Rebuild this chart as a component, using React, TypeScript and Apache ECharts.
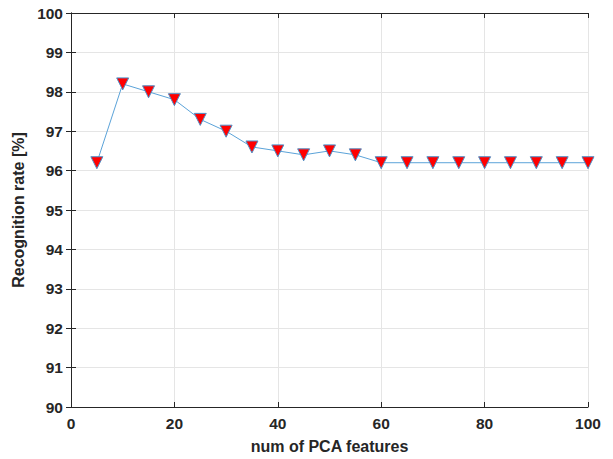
import React, { useEffect, useRef } from "react";
import * as echarts from "echarts";

const xValues = [5, 10, 15, 20, 25, 30, 35, 40, 45, 50, 55, 60, 65, 70, 75, 80, 85, 90, 95, 100];
const yValues = [96.2, 98.2, 98.0, 97.8, 97.3, 97.0, 96.6, 96.5, 96.4, 96.5, 96.4, 96.2, 96.2, 96.2, 96.2, 96.2, 96.2, 96.2, 96.2, 96.2];
const xName = "num of PCA features";
const yName = "Recognition rate [%]";

export default function App() {
  const ref = useRef<HTMLDivElement>(null);
  useEffect(() => {
    document.body.style.margin = "0";
    const chart = echarts.init(ref.current!, null, { renderer: "svg" });
    const font = "Liberation Sans, Arial, sans-serif";
    const axisColor = "#262626";
    const labelStyle = { color: "#262626", fontSize: 15.5, fontWeight: "bold" as const, fontFamily: font };
    chart.setOption({
      animation: false,
      backgroundColor: "#ffffff",
      grid: { left: 71, right: 25, top: 13, bottom: 52 },
      xAxis: [
        {
          type: "value", min: 0, max: 100, interval: 20,
          name: xName, nameLocation: "middle", nameGap: 31,
          nameTextStyle: { color: "#262626", fontSize: 16, fontWeight: "bold", fontFamily: font },
          axisLine: { show: true, lineStyle: { color: axisColor, width: 1 } },
          axisTick: { show: true, inside: true, length: 5, lineStyle: { color: axisColor } },
          axisLabel: { ...labelStyle, margin: 8 },
          splitLine: { show: true, lineStyle: { color: "#e5e5e5", width: 1 } },
        },
        {
          type: "value", min: 0, max: 100, interval: 20, position: "top",
          axisLine: { show: true, lineStyle: { color: axisColor, width: 1 } },
          axisTick: { show: true, inside: true, length: 5, lineStyle: { color: axisColor } },
          axisLabel: { show: false },
          splitLine: { show: false },
        },
      ],
      yAxis: [
        {
          type: "value", min: 90, max: 100, interval: 1,
          name: yName, nameLocation: "middle", nameGap: 35,
          nameTextStyle: { color: "#262626", fontSize: 16, fontWeight: "bold", fontFamily: font },
          axisLine: { show: true, lineStyle: { color: axisColor, width: 1 } },
          axisTick: { show: true, inside: true, length: 5, lineStyle: { color: axisColor } },
          axisLabel: { ...labelStyle, margin: 8 },
          splitLine: { show: true, lineStyle: { color: "#e5e5e5", width: 1 } },
        },
        {
          type: "value", min: 90, max: 100, interval: 1, position: "right",
          axisLine: { show: true, lineStyle: { color: axisColor, width: 1 } },
          axisTick: { show: true, inside: true, length: 5, lineStyle: { color: axisColor } },
          axisLabel: { show: false },
          splitLine: { show: false },
        },
      ],
      series: [
        {
          type: "line",
          data: xValues.map((x, i) => [x, yValues[i]]),
          xAxisIndex: 0, yAxisIndex: 0,
          lineStyle: { color: "#5ba3d9", width: 1 },
          symbol: "triangle", symbolRotate: 180, symbolSize: 12,
          itemStyle: { color: "#ff0000", borderColor: "#4f8fc7", borderWidth: 1 },
          clip: false,
        },
      ],
    });
    return () => chart.dispose();
  }, []);
  return <div ref={ref} style={{ position: "fixed", left: 0, top: 0, width: 613, height: 459 }} />;
}
